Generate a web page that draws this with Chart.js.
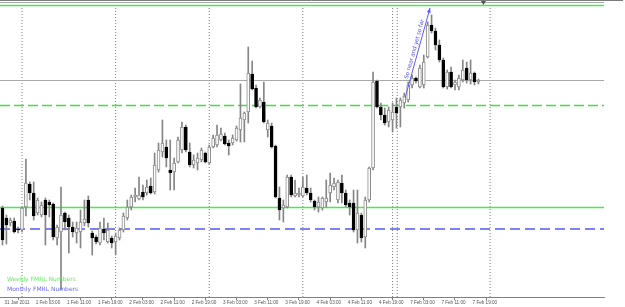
<!DOCTYPE html>
<html>
<head>
<meta charset="utf-8">
<script src="https://cdn.jsdelivr.net/npm/chart.js@4.4.1/dist/chart.umd.min.js"></script>
<style>
  html, body { margin: 0; padding: 0; background: #ffffff; }
  canvas { display: block; }
</style>
</head>
<body>
<canvas id="fmrl-chart" width="625" height="307"></canvas>
<script>
// hourly bars, 31 Jan 2011 19:00 -> 7 Feb 2011 21:00 (weekend skipped)
var tickLabels = [
  "31 Jan 2011", "1 Feb 03:00", "1 Feb 11:00", "1 Feb 19:00",
  "2 Feb 03:00", "2 Feb 11:00", "2 Feb 19:00", "3 Feb 03:00",
  "3 Feb 11:00", "3 Feb 19:00", "4 Feb 03:00", "4 Feb 11:00",
  "4 Feb 19:00", "7 Feb 03:00", "7 Feb 11:00", "7 Feb 19:00",
];

var opens = [
  89, 79, 74, 76, 68, 67, 90, 113, 104, 84, 82, 97, 95, 93, 59, 65, 84, 79, 70, 64,
  65, 74, 97, 64, 60, 54, 68, 55, 59, 55, 59, 67, 79, 90, 100, 98, 105, 104, 111, 105,
  127, 145, 150, 127, 125, 135, 147, 170, 145, 132, 134, 137, 144, 134, 150, 152, 157, 161, 154, 154,
  157, 167, 177, 185, 223, 209, 190, 195, 167, 171, 151, 99, 89, 90, 120, 101, 102, 101, 109, 104,
  96, 90, 89, 95, 104, 110, 97, 114, 104, 94, 94, 67, 82, 60, 97, 129, 216, 190, 182, 175,
  177, 190, 190, 194, 197, 212, 219, 210, 212, 240, 272, 266, 252, 237, 210, 225, 212, 210, 217, 229,
  217, 224, 215,
];
var highs = [
  91, 82, 79, 79, 70, 90, 138, 115, 115, 99, 95, 99, 97, 94, 72, 110, 85, 82, 75, 75,
  87, 97, 101, 66, 62, 75, 79, 74, 61, 64, 69, 84, 97, 102, 109, 120, 112, 117, 119, 144,
  154, 177, 157, 157, 139, 160, 175, 172, 154, 142, 144, 149, 145, 152, 162, 172, 169, 164, 157, 162,
  171, 213, 185, 250, 236, 212, 199, 215, 177, 174, 152, 110, 97, 122, 122, 117, 109, 120, 122, 109,
  97, 100, 100, 117, 124, 119, 117, 122, 107, 97, 107, 107, 84, 100, 130, 225, 217, 194, 189, 190,
  194, 199, 199, 204, 215, 222, 220, 232, 242, 275, 282, 269, 257, 239, 227, 230, 217, 222, 237, 235,
  237, 225, 218,
];
var lows = [
  52, 53, 71, 64, 64, 65, 81, 97, 77, 82, 80, 52, 80, 57, 52, 7, 67, 44, 60, 54,
  49, 71, 70, 42, 53, 52, 57, 54, 49, 42, 57, 65, 77, 87, 95, 97, 97, 102, 103, 103,
  125, 140, 130, 107, 107, 134, 144, 145, 130, 129, 127, 135, 134, 133, 149, 150, 156, 152, 142, 152,
  156, 155, 155, 174, 207, 189, 189, 174, 160, 149, 99, 77, 75, 89, 100, 100, 100, 100, 102, 95,
  87, 85, 87, 90, 95, 107, 94, 94, 90, 82, 65, 54, 55, 49, 95, 127, 189, 177, 172, 170,
  165, 169, 170, 189, 195, 209, 214, 209, 209, 239, 264, 247, 235, 209, 208, 209, 207, 207, 215, 214,
  213, 212, 213,
];
var closes = [
  57, 72, 77, 65, 67, 89, 114, 104, 81, 97, 92, 82, 92, 60, 70, 82, 75, 70, 65, 69,
  75, 78, 74, 59, 55, 69, 64, 67, 54, 61, 67, 81, 90, 100, 102, 102, 100, 110, 104, 132,
  147, 154, 139, 124, 134, 157, 170, 147, 132, 137, 139, 147, 135, 150, 159, 162, 163, 153, 151, 159,
  169, 179, 184, 224, 208, 190, 197, 175, 174, 150, 100, 87, 92, 120, 102, 104, 104, 110, 104, 97,
  90, 95, 99, 99, 112, 114, 115, 104, 92, 90, 67, 84, 59, 97, 129, 215, 190, 182, 174, 187,
  185, 184, 197, 201, 212, 219, 216, 229, 235, 272, 266, 252, 237, 210, 225, 210, 215, 219, 227, 217,
  224, 215, 217,
];

// day separators (bar index) and drawn price levels
var daySeparators = [5, 29, 53, 77, 100, 101.2, 125];
var greyLevels = [294.5, 216.5];
var weeklySolid = [291.5, 89.5];
var weeklyDashed = [191.5];
var monthlyDashed = [68];

var xMin = -0.64;
var xMax = 154.2;

var bars = opens.map(function (o, i) { return i; });
var isUp = bars.map(function (i) { return closes[i] >= opens[i]; });

var levelSets = [];
function addLevel(v, color, width, dash) {
  levelSets.push({
    type: "line",
    data: [{ x: xMin, y: v }, { x: xMax, y: v }],
    borderColor: color,
    backgroundColor: color,
    borderWidth: width,
    borderDash: dash,
    pointRadius: 0,
    fill: false,
    order: 4,
  });
}
greyLevels.forEach(function (v) { addLevel(v, "#a9a9a9", 1, []); });
weeklySolid.forEach(function (v) { addLevel(v, "#45ee45", 1.3, []); });
weeklyDashed.forEach(function (v) { addLevel(v, "#3fe03f", 1.4, [10, 4]); });
monthlyDashed.forEach(function (v) { addLevel(v, "#8080f5", 2, [10, 5]); });

daySeparators.forEach(function (s) {
  levelSets.push({
    type: "line",
    data: [{ x: s, y: 0 }, { x: s, y: 297 }],
    borderColor: "#7c7c7c",
    borderWidth: 1,
    borderDash: [1, 2],
    pointRadius: 0,
    order: 5,
  });
});

// trendline + text object drawn on the chart
var arrowFrom = [103.2, 199];
var arrowTo = [109.6, 289];
var noteAt = [103.9, 218];

var notes = {
  id: "notes",
  afterDraw: function (chart) {
    var ctx = chart.ctx;
    var xs = chart.scales.x;
    var ys = chart.scales.y;
    ctx.save();

    ctx.strokeStyle = "#7c7c7c";
    ctx.lineWidth = 1;
    ctx.beginPath();
    ctx.moveTo(0, 0.5);
    ctx.lineTo(623, 0.5);
    ctx.stroke();

    // shift marker
    var mx = xs.getPixelForValue(123.3);
    ctx.fillStyle = "#555555";
    ctx.beginPath();
    ctx.moveTo(mx - 2.5, 1);
    ctx.lineTo(mx + 2.5, 1);
    ctx.lineTo(mx, 5);
    ctx.closePath();
    ctx.fill();

    ctx.font = "6px 'DejaVu Sans'";
    ctx.textBaseline = "alphabetic";
    ctx.fillStyle = "#66ee66";
    ctx.fillText("Weekly FMRL Numbers", 7, 281);
    ctx.fillStyle = "#6b6bf2";
    ctx.fillText("Monthly FMRL Numbers", 7, 291);

    var x1 = xs.getPixelForValue(arrowFrom[0]);
    var y1 = ys.getPixelForValue(arrowFrom[1]);
    var x2 = xs.getPixelForValue(arrowTo[0]);
    var y2 = ys.getPixelForValue(arrowTo[1]);
    var ang = Math.atan2(y2 - y1, x2 - x1);
    ctx.strokeStyle = "#5a5aff";
    ctx.fillStyle = "#5a5aff";
    ctx.beginPath();
    ctx.moveTo(x1, y1);
    ctx.lineTo(x2, y2);
    ctx.stroke();
    ctx.beginPath();
    ctx.moveTo(x2, y2);
    ctx.lineTo(x2 - 5 * Math.cos(ang - 0.4), y2 - 5 * Math.sin(ang - 0.4));
    ctx.lineTo(x2 - 5 * Math.cos(ang + 0.4), y2 - 5 * Math.sin(ang + 0.4));
    ctx.closePath();
    ctx.fill();

    ctx.translate(xs.getPixelForValue(noteAt[0]), ys.getPixelForValue(noteAt[1]));
    ctx.rotate(ang);
    ctx.font = "5.5px 'DejaVu Sans'";
    ctx.fillStyle = "#5050f0";
    ctx.textAlign = "left";
    ctx.fillText("So near and yet so far", 0, 0);
    ctx.restore();
  },
};

var ctx = document.getElementById("fmrl-chart").getContext("2d");
var fmrlChart = new Chart(ctx, {
  type: "bar",
  data: {
    datasets: [
      {
        data: bars.map(function (i) { return { x: i, y: [opens[i], closes[i]] }; }),
        backgroundColor: isUp.map(function (u) { return u ? "#ffffff" : "#000000"; }),
        borderColor: isUp.map(function (u) { return u ? "#8a8a8a" : "#000000"; }),
        borderWidth: 1,
        borderSkipped: false,
        barThickness: 3,
        minBarLength: 1,
        grouped: false,
        order: 1,
      },
      {
        data: bars.map(function (i) { return { x: i, y: [lows[i], highs[i]] }; }),
        backgroundColor: "#858585",
        borderWidth: 0,
        barThickness: 1,
        grouped: false,
        order: 2,
      },
    ].concat(levelSets),
  },
  options: {
    responsive: false,
    animation: false,
    devicePixelRatio: 1,
    layout: { padding: { left: 0, right: 21, top: 0, bottom: 0 } },
    plugins: { legend: { display: false }, tooltip: { enabled: false } },
    scales: {
      x: {
        type: "linear",
        min: xMin,
        max: xMax,
        offset: false,
        afterBuildTicks: function (axis) {
          axis.ticks = tickLabels.map(function (t, k) { return { value: k * 8 }; });
        },
        afterFit: function (axis) { axis.height = 10; },
        ticks: {
          autoSkip: false,
          maxRotation: 0,
          align: "start",
          labelOffset: 2,
          padding: 0,
          color: "#555555",
          font: { family: "Liberation Sans", size: 4.6 },
          callback: function (v, k) { return tickLabels[k]; },
        },
        grid: { drawOnChartArea: false, drawTicks: true, tickLength: 3, color: "#808080" },
        border: { display: true, color: "#808080" },
      },
      y: { display: false, min: 0, max: 297 },
    },
  },
  plugins: [notes],
});
</script>
</body>
</html>
